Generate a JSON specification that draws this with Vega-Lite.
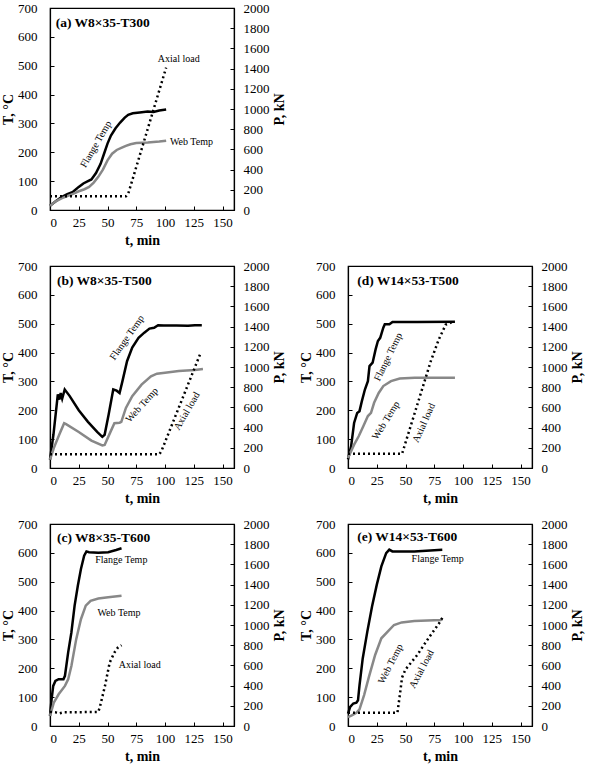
{
"$schema": "https://vega.github.io/schema/vega-lite/v6.json",
"padding": {"left": 0, "top": 1, "right": 0, "bottom": 0},
"config": {
 "view": {"stroke": "black", "strokeWidth": 1.2},
 "axis": {"grid": false, "labelOverlap": false, "format": "d", "domainColor": "black", "domainWidth": 1.2, "tickColor": "black", "tickSize": -4, "tickWidth": 1, "labelFont": "Liberation Serif", "labelFontSize": 13, "labelColor": "black", "titleFont": "Liberation Serif", "titleFontSize": 14, "titleFontWeight": "bold", "titleColor": "black"},
 "text": {"font": "Liberation Serif", "fontSize": 10, "color": "black"},
 "line": {"strokeWidth": 2.5},
 "concat": {"spacing": 11}
},
"datasets": {
 "temp": [
  {"p":"a","s":"Flange","t":0,"T":15},{"p":"a","s":"Flange","t":5,"T":30},{"p":"a","s":"Flange","t":10,"T":45},{"p":"a","s":"Flange","t":15,"T":55},{"p":"a","s":"Flange","t":20,"T":63},{"p":"a","s":"Flange","t":25,"T":80},{"p":"a","s":"Flange","t":29,"T":92},{"p":"a","s":"Flange","t":33,"T":100},{"p":"a","s":"Flange","t":36,"T":106},{"p":"a","s":"Flange","t":40,"T":128},{"p":"a","s":"Flange","t":44,"T":160},{"p":"a","s":"Flange","t":47,"T":195},{"p":"a","s":"Flange","t":50,"T":230},{"p":"a","s":"Flange","t":53,"T":258},{"p":"a","s":"Flange","t":57,"T":283},{"p":"a","s":"Flange","t":61,"T":303},{"p":"a","s":"Flange","t":65,"T":320},{"p":"a","s":"Flange","t":68,"T":330},{"p":"a","s":"Flange","t":72,"T":335},{"p":"a","s":"Flange","t":78,"T":338},{"p":"a","s":"Flange","t":85,"T":341},{"p":"a","s":"Flange","t":90,"T":340},{"p":"a","s":"Flange","t":95,"T":345},{"p":"a","s":"Flange","t":101,"T":348},
  {"p":"a","s":"Web","t":0,"T":15},{"p":"a","s":"Web","t":5,"T":30},{"p":"a","s":"Web","t":10,"T":40},{"p":"a","s":"Web","t":15,"T":48},{"p":"a","s":"Web","t":20,"T":56},{"p":"a","s":"Web","t":25,"T":65},{"p":"a","s":"Web","t":30,"T":72},{"p":"a","s":"Web","t":34,"T":80},{"p":"a","s":"Web","t":38,"T":95},{"p":"a","s":"Web","t":42,"T":115},{"p":"a","s":"Web","t":46,"T":140},{"p":"a","s":"Web","t":50,"T":172},{"p":"a","s":"Web","t":54,"T":195},{"p":"a","s":"Web","t":58,"T":208},{"p":"a","s":"Web","t":62,"T":215},{"p":"a","s":"Web","t":66,"T":222},{"p":"a","s":"Web","t":70,"T":228},{"p":"a","s":"Web","t":75,"T":232},{"p":"a","s":"Web","t":85,"T":234},{"p":"a","s":"Web","t":95,"T":237},{"p":"a","s":"Web","t":101,"T":240},
  {"p":"b","s":"Flange","t":0,"T":29},{"p":"b","s":"Flange","t":3,"T":116},{"p":"b","s":"Flange","t":6.8,"T":255},{"p":"b","s":"Flange","t":8.2,"T":237},{"p":"b","s":"Flange","t":9.3,"T":260},{"p":"b","s":"Flange","t":10.6,"T":240},{"p":"b","s":"Flange","t":12.8,"T":272},{"p":"b","s":"Flange","t":17,"T":250},{"p":"b","s":"Flange","t":25,"T":200},{"p":"b","s":"Flange","t":33,"T":160},{"p":"b","s":"Flange","t":41,"T":125},{"p":"b","s":"Flange","t":45.5,"T":108},{"p":"b","s":"Flange","t":47.5,"T":115},{"p":"b","s":"Flange","t":51,"T":185},{"p":"b","s":"Flange","t":55,"T":272},{"p":"b","s":"Flange","t":58,"T":268},{"p":"b","s":"Flange","t":60.5,"T":260},{"p":"b","s":"Flange","t":63,"T":301},{"p":"b","s":"Flange","t":67,"T":370},{"p":"b","s":"Flange","t":71.5,"T":417},{"p":"b","s":"Flange","t":77,"T":451},{"p":"b","s":"Flange","t":82,"T":469},{"p":"b","s":"Flange","t":86.5,"T":483},{"p":"b","s":"Flange","t":90.5,"T":486},{"p":"b","s":"Flange","t":94,"T":495},{"p":"b","s":"Flange","t":99,"T":494},{"p":"b","s":"Flange","t":110,"T":494},{"p":"b","s":"Flange","t":120,"T":493},{"p":"b","s":"Flange","t":126,"T":495},{"p":"b","s":"Flange","t":132,"T":495},
  {"p":"b","s":"Web","t":0,"T":29},{"p":"b","s":"Web","t":3.3,"T":69},{"p":"b","s":"Web","t":8,"T":115},{"p":"b","s":"Web","t":12.3,"T":155},{"p":"b","s":"Web","t":14,"T":152},{"p":"b","s":"Web","t":25,"T":125},{"p":"b","s":"Web","t":36,"T":95},{"p":"b","s":"Web","t":45.5,"T":78},{"p":"b","s":"Web","t":47.5,"T":80},{"p":"b","s":"Web","t":52,"T":120},{"p":"b","s":"Web","t":56,"T":155},{"p":"b","s":"Web","t":60.5,"T":157},{"p":"b","s":"Web","t":62,"T":160},{"p":"b","s":"Web","t":66,"T":208},{"p":"b","s":"Web","t":71.5,"T":249},{"p":"b","s":"Web","t":79.6,"T":289},{"p":"b","s":"Web","t":87.8,"T":318},{"p":"b","s":"Web","t":93,"T":327},{"p":"b","s":"Web","t":100,"T":330},{"p":"b","s":"Web","t":112,"T":336},{"p":"b","s":"Web","t":126,"T":340},{"p":"b","s":"Web","t":133,"T":343},
  {"p":"d","s":"Flange","t":0,"T":30},{"p":"d","s":"Flange","t":2.7,"T":75},{"p":"d","s":"Flange","t":5.3,"T":156},{"p":"d","s":"Flange","t":8,"T":191},{"p":"d","s":"Flange","t":10,"T":197},{"p":"d","s":"Flange","t":12,"T":231},{"p":"d","s":"Flange","t":14.7,"T":272},{"p":"d","s":"Flange","t":17.3,"T":301},{"p":"d","s":"Flange","t":18.7,"T":353},{"p":"d","s":"Flange","t":21.4,"T":365},{"p":"d","s":"Flange","t":24,"T":411},{"p":"d","s":"Flange","t":26,"T":440},{"p":"d","s":"Flange","t":28,"T":451},{"p":"d","s":"Flange","t":30.7,"T":486},{"p":"d","s":"Flange","t":32,"T":498},{"p":"d","s":"Flange","t":36,"T":498},{"p":"d","s":"Flange","t":38.7,"T":506},{"p":"d","s":"Flange","t":60,"T":506},{"p":"d","s":"Flange","t":93,"T":507},
  {"p":"d","s":"Web","t":0,"T":35},{"p":"d","s":"Web","t":5.3,"T":81},{"p":"d","s":"Web","t":9.3,"T":110},{"p":"d","s":"Web","t":13.3,"T":145},{"p":"d","s":"Web","t":17.3,"T":180},{"p":"d","s":"Web","t":20,"T":191},{"p":"d","s":"Web","t":22.7,"T":226},{"p":"d","s":"Web","t":26.7,"T":260},{"p":"d","s":"Web","t":30.7,"T":284},{"p":"d","s":"Web","t":37.4,"T":301},{"p":"d","s":"Web","t":45,"T":310},{"p":"d","s":"Web","t":58,"T":313},{"p":"d","s":"Web","t":93,"T":313},
  {"p":"c","s":"Flange","t":0,"T":35},{"p":"c","s":"Flange","t":1.4,"T":93},{"p":"c","s":"Flange","t":2.8,"T":139},{"p":"c","s":"Flange","t":4.7,"T":156},{"p":"c","s":"Flange","t":7.5,"T":162},{"p":"c","s":"Flange","t":11.7,"T":162},{"p":"c","s":"Flange","t":13,"T":174},{"p":"c","s":"Flange","t":15.8,"T":255},{"p":"c","s":"Flange","t":18.6,"T":324},{"p":"c","s":"Flange","t":21.4,"T":417},{"p":"c","s":"Flange","t":24.2,"T":486},{"p":"c","s":"Flange","t":26.9,"T":544},{"p":"c","s":"Flange","t":29.7,"T":590},{"p":"c","s":"Flange","t":31.7,"T":605},{"p":"c","s":"Flange","t":33.9,"T":602},{"p":"c","s":"Flange","t":42,"T":600},{"p":"c","s":"Flange","t":50.6,"T":602},{"p":"c","s":"Flange","t":57.5,"T":610},{"p":"c","s":"Flange","t":62.2,"T":616},
  {"p":"c","s":"Web","t":0,"T":35},{"p":"c","s":"Web","t":3.3,"T":81},{"p":"c","s":"Web","t":7.5,"T":110},{"p":"c","s":"Web","t":13,"T":139},{"p":"c","s":"Web","t":15.8,"T":162},{"p":"c","s":"Web","t":18.6,"T":208},{"p":"c","s":"Web","t":22.8,"T":301},{"p":"c","s":"Web","t":26.9,"T":370},{"p":"c","s":"Web","t":31.1,"T":417},{"p":"c","s":"Web","t":35.3,"T":434},{"p":"c","s":"Web","t":42,"T":442},{"p":"c","s":"Web","t":50.6,"T":446},{"p":"c","s":"Web","t":62.2,"T":451},
  {"p":"e","s":"Flange","t":0,"T":43},{"p":"e","s":"Flange","t":1.9,"T":66},{"p":"e","s":"Flange","t":4.6,"T":78},{"p":"e","s":"Flange","t":7.3,"T":81},{"p":"e","s":"Flange","t":8.7,"T":89},{"p":"e","s":"Flange","t":10,"T":141},{"p":"e","s":"Flange","t":12.8,"T":234},{"p":"e","s":"Flange","t":16.8,"T":327},{"p":"e","s":"Flange","t":20.9,"T":414},{"p":"e","s":"Flange","t":25,"T":489},{"p":"e","s":"Flange","t":29,"T":553},{"p":"e","s":"Flange","t":33.2,"T":599},{"p":"e","s":"Flange","t":35.9,"T":611},{"p":"e","s":"Flange","t":38.6,"T":605},{"p":"e","s":"Flange","t":57.6,"T":605},{"p":"e","s":"Flange","t":82,"T":611},
  {"p":"e","s":"Web","t":0,"T":31},{"p":"e","s":"Web","t":3.3,"T":37},{"p":"e","s":"Web","t":7.3,"T":46},{"p":"e","s":"Web","t":10,"T":58},{"p":"e","s":"Web","t":14,"T":107},{"p":"e","s":"Web","t":18.2,"T":170},{"p":"e","s":"Web","t":23.6,"T":246},{"p":"e","s":"Web","t":29,"T":304},{"p":"e","s":"Web","t":34.5,"T":327},{"p":"e","s":"Web","t":40,"T":350},{"p":"e","s":"Web","t":46.7,"T":359},{"p":"e","s":"Web","t":57.6,"T":364},{"p":"e","s":"Web","t":80.7,"T":367},{"p":"e","s":"Web","t":82,"T":371}
 ],
 "load": [
  {"p":"a","t":0,"P":135},{"p":"a","t":66,"P":135},{"p":"a","t":68,"P":160},{"p":"a","t":101,"P":1410},
  {"p":"b","t":0,"P":135},{"p":"b","t":95,"P":135},{"p":"b","t":97,"P":170},{"p":"b","t":131,"P":1140},
  {"p":"d","t":0,"P":140},{"p":"d","t":47,"P":140},{"p":"d","t":72,"P":1058},{"p":"d","t":79,"P":1274},{"p":"d","t":85,"P":1420},{"p":"d","t":88,"P":1430},{"p":"d","t":92,"P":1456},
  {"p":"c","t":0,"P":139},{"p":"c","t":5,"P":135},{"p":"c","t":8,"P":125},{"p":"c","t":12,"P":135},{"p":"c","t":42,"P":139},{"p":"c","t":43.6,"P":198},{"p":"c","t":47.8,"P":397},{"p":"c","t":51.9,"P":628},{"p":"c","t":56,"P":727},{"p":"c","t":58.9,"P":775},{"p":"c","t":62.2,"P":800},
  {"p":"e","t":0,"P":132},{"p":"e","t":43,"P":132},{"p":"e","t":45,"P":300},{"p":"e","t":47,"P":480},{"p":"e","t":50,"P":560},{"p":"e","t":60,"P":700},{"p":"e","t":70,"P":870},{"p":"e","t":80,"P":1030},{"p":"e","t":82,"P":1070}
 ]
},
"vconcat": [
 {"hconcat": [
  {"width": 184, "height": 202, "resolve": {"scale": {"y": "independent"}},
   "layer": [
    {"layer": [
     {"data": {"name": "temp"}, "transform": [{"filter": "datum.p === 'a'"}], "mark": "line",
      "encoding": {
       "x": {"field": "t", "type": "quantitative", "scale": {"domain": [0, 150]}, "axis": {"values": [0,25,50,75,100,125,150], "title": "t, min", "labelPadding": 10, "titlePadding": 4}},
       "y": {"field": "T", "type": "quantitative", "scale": {"domain": [0, 700]}, "axis": {"values": [0,100,200,300,400,500,600,700], "title": "T, °C", "labelPadding": 17, "titlePadding": 2}},
       "color": {"field": "s", "type": "nominal", "scale": {"domain": ["Flange", "Web"], "range": ["#000000", "#888888"]}, "legend": null}}},
     {"data": {"values": [{}]}, "mark": {"type": "text", "text": "(a) W8×35-T300", "fontWeight": "bold", "fontSize": 13.5, "align": "left"}, "encoding": {"x": {"datum": 5, "axis": {"values": [0,25,50,75,100,125,150], "title": "t, min", "labelPadding": 10, "titlePadding": 4}}, "y": {"datum": 648, "axis": {"values": [0,100,200,300,400,500,600,700], "title": "T, °C", "labelPadding": 17, "titlePadding": 2}}}},
     {"data": {"values": [{}]}, "mark": {"type": "text", "text": "Flange Temp", "angle": 300}, "encoding": {"x": {"datum": 40, "axis": {"values": [0,25,50,75,100,125,150], "title": "t, min", "labelPadding": 10, "titlePadding": 4}}, "y": {"datum": 228, "axis": {"values": [0,100,200,300,400,500,600,700], "title": "T, °C", "labelPadding": 17, "titlePadding": 2}}}},
     {"data": {"values": [{}]}, "mark": {"type": "text", "text": "Web Temp"}, "encoding": {"x": {"datum": 123, "axis": {"values": [0,25,50,75,100,125,150], "title": "t, min", "labelPadding": 10, "titlePadding": 4}}, "y": {"datum": 234, "axis": {"values": [0,100,200,300,400,500,600,700], "title": "T, °C", "labelPadding": 17, "titlePadding": 2}}}},
     {"data": {"values": [{}]}, "mark": {"type": "text", "text": "Axial load"}, "encoding": {"x": {"datum": 112, "axis": {"values": [0,25,50,75,100,125,150], "title": "t, min", "labelPadding": 10, "titlePadding": 4}}, "y": {"datum": 523, "axis": {"values": [0,100,200,300,400,500,600,700], "title": "T, °C", "labelPadding": 17, "titlePadding": 2}}}}
    ]},
    {"data": {"name": "load"}, "transform": [{"filter": "datum.p === 'a'"}], "mark": {"type": "line", "color": "black", "strokeDash": [2, 3]},
     "encoding": {"x": {"field": "t", "type": "quantitative", "axis": {"values": [0,25,50,75,100,125,150], "title": "t, min", "labelPadding": 10, "titlePadding": 4}},
      "y": {"field": "P", "type": "quantitative", "scale": {"domain": [0, 2000]}, "axis": {"orient": "right", "values": [0,200,400,600,800,1000,1200,1400,1600,1800,2000], "title": "P, kN", "titleAngle": -90, "titleBaseline": "top", "labelPadding": 13, "titlePadding": 3}}}}
   ]}
 ]},
 {"hconcat": [
  {"width": 184, "height": 202, "resolve": {"scale": {"y": "independent"}},
   "layer": [
    {"layer": [
     {"data": {"name": "temp"}, "transform": [{"filter": "datum.p === 'b'"}], "mark": "line",
      "encoding": {
       "x": {"field": "t", "type": "quantitative", "scale": {"domain": [0, 150]}, "axis": {"values": [0,25,50,75,100,125,150], "title": "t, min", "labelPadding": 10, "titlePadding": 4}},
       "y": {"field": "T", "type": "quantitative", "scale": {"domain": [0, 700]}, "axis": {"values": [0,100,200,300,400,500,600,700], "title": "T, °C", "labelPadding": 17, "titlePadding": 2}},
       "color": {"field": "s", "type": "nominal", "scale": {"domain": ["Flange", "Web"], "range": ["#000000", "#888888"]}, "legend": null}}},
     {"data": {"values": [{}]}, "mark": {"type": "text", "text": "(b) W8×35-T500", "fontWeight": "bold", "fontSize": 13.5, "align": "left"}, "encoding": {"x": {"datum": 6, "axis": {"values": [0,25,50,75,100,125,150], "title": "t, min", "labelPadding": 10, "titlePadding": 4}}, "y": {"datum": 648, "axis": {"values": [0,100,200,300,400,500,600,700], "title": "T, °C", "labelPadding": 17, "titlePadding": 2}}}},
     {"data": {"values": [{}]}, "mark": {"type": "text", "text": "Flange Temp", "angle": 305}, "encoding": {"x": {"datum": 67, "axis": {"values": [0,25,50,75,100,125,150], "title": "t, min", "labelPadding": 10, "titlePadding": 4}}, "y": {"datum": 452, "axis": {"values": [0,100,200,300,400,500,600,700], "title": "T, °C", "labelPadding": 17, "titlePadding": 2}}}},
     {"data": {"values": [{}]}, "mark": {"type": "text", "text": "Web Temp", "angle": 312}, "encoding": {"x": {"datum": 80, "axis": {"values": [0,25,50,75,100,125,150], "title": "t, min", "labelPadding": 10, "titlePadding": 4}}, "y": {"datum": 218, "axis": {"values": [0,100,200,300,400,500,600,700], "title": "T, °C", "labelPadding": 17, "titlePadding": 2}}}},
     {"data": {"values": [{}]}, "mark": {"type": "text", "text": "Axial load", "angle": 300}, "encoding": {"x": {"datum": 119, "axis": {"values": [0,25,50,75,100,125,150], "title": "t, min", "labelPadding": 10, "titlePadding": 4}}, "y": {"datum": 197, "axis": {"values": [0,100,200,300,400,500,600,700], "title": "T, °C", "labelPadding": 17, "titlePadding": 2}}}}
    ]},
    {"data": {"name": "load"}, "transform": [{"filter": "datum.p === 'b'"}], "mark": {"type": "line", "color": "black", "strokeDash": [2, 3]},
     "encoding": {"x": {"field": "t", "type": "quantitative", "axis": {"values": [0,25,50,75,100,125,150], "title": "t, min", "labelPadding": 10, "titlePadding": 4}},
      "y": {"field": "P", "type": "quantitative", "scale": {"domain": [0, 2000]}, "axis": {"orient": "right", "values": [0,200,400,600,800,1000,1200,1400,1600,1800,2000], "title": "P, kN", "titleAngle": -90, "titleBaseline": "top", "labelPadding": 13, "titlePadding": 3}}}}
   ]},
  {"width": 184, "height": 202, "resolve": {"scale": {"y": "independent"}},
   "layer": [
    {"layer": [
     {"data": {"name": "temp"}, "transform": [{"filter": "datum.p === 'd'"}], "mark": "line",
      "encoding": {
       "x": {"field": "t", "type": "quantitative", "scale": {"domain": [0, 150]}, "axis": {"values": [0,25,50,75,100,125,150], "title": "t, min", "labelPadding": 10, "titlePadding": 4}},
       "y": {"field": "T", "type": "quantitative", "scale": {"domain": [0, 700]}, "axis": {"values": [0,100,200,300,400,500,600,700], "title": "T, °C", "labelPadding": 17, "titlePadding": 2}},
       "color": {"field": "s", "type": "nominal", "scale": {"domain": ["Flange", "Web"], "range": ["#000000", "#888888"]}, "legend": null}}},
     {"data": {"values": [{}]}, "mark": {"type": "text", "text": "(d) W14×53-T500", "fontWeight": "bold", "fontSize": 13.5, "align": "left"}, "encoding": {"x": {"datum": 8, "axis": {"values": [0,25,50,75,100,125,150], "title": "t, min", "labelPadding": 10, "titlePadding": 4}}, "y": {"datum": 648, "axis": {"values": [0,100,200,300,400,500,600,700], "title": "T, °C", "labelPadding": 17, "titlePadding": 2}}}},
     {"data": {"values": [{}]}, "mark": {"type": "text", "text": "Flange Temp", "angle": 296}, "encoding": {"x": {"datum": 35, "axis": {"values": [0,25,50,75,100,125,150], "title": "t, min", "labelPadding": 10, "titlePadding": 4}}, "y": {"datum": 385, "axis": {"values": [0,100,200,300,400,500,600,700], "title": "T, °C", "labelPadding": 17, "titlePadding": 2}}}},
     {"data": {"values": [{}]}, "mark": {"type": "text", "text": "Web Temp", "angle": 302}, "encoding": {"x": {"datum": 33, "axis": {"values": [0,25,50,75,100,125,150], "title": "t, min", "labelPadding": 10, "titlePadding": 4}}, "y": {"datum": 165, "axis": {"values": [0,100,200,300,400,500,600,700], "title": "T, °C", "labelPadding": 17, "titlePadding": 2}}}},
     {"data": {"values": [{}]}, "mark": {"type": "text", "text": "Axial load", "angle": 294}, "encoding": {"x": {"datum": 66, "axis": {"values": [0,25,50,75,100,125,150], "title": "t, min", "labelPadding": 10, "titlePadding": 4}}, "y": {"datum": 156, "axis": {"values": [0,100,200,300,400,500,600,700], "title": "T, °C", "labelPadding": 17, "titlePadding": 2}}}}
    ]},
    {"data": {"name": "load"}, "transform": [{"filter": "datum.p === 'd'"}], "mark": {"type": "line", "color": "black", "strokeDash": [2, 3]},
     "encoding": {"x": {"field": "t", "type": "quantitative", "axis": {"values": [0,25,50,75,100,125,150], "title": "t, min", "labelPadding": 10, "titlePadding": 4}},
      "y": {"field": "P", "type": "quantitative", "scale": {"domain": [0, 2000]}, "axis": {"orient": "right", "values": [0,200,400,600,800,1000,1200,1400,1600,1800,2000], "title": "P, kN", "titleAngle": -90, "titleBaseline": "top", "labelPadding": 13, "titlePadding": 3}}}}
   ]}
 ]},
 {"hconcat": [
  {"width": 184, "height": 202, "resolve": {"scale": {"y": "independent"}},
   "layer": [
    {"layer": [
     {"data": {"name": "temp"}, "transform": [{"filter": "datum.p === 'c'"}], "mark": "line",
      "encoding": {
       "x": {"field": "t", "type": "quantitative", "scale": {"domain": [0, 150]}, "axis": {"values": [0,25,50,75,100,125,150], "title": "t, min", "labelPadding": 10, "titlePadding": 4}},
       "y": {"field": "T", "type": "quantitative", "scale": {"domain": [0, 700]}, "axis": {"values": [0,100,200,300,400,500,600,700], "title": "T, °C", "labelPadding": 17, "titlePadding": 2}},
       "color": {"field": "s", "type": "nominal", "scale": {"domain": ["Flange", "Web"], "range": ["#000000", "#888888"]}, "legend": null}}},
     {"data": {"values": [{}]}, "mark": {"type": "text", "text": "(c) W8×35-T600", "fontWeight": "bold", "fontSize": 13.5, "align": "left"}, "encoding": {"x": {"datum": 6, "axis": {"values": [0,25,50,75,100,125,150], "title": "t, min", "labelPadding": 10, "titlePadding": 4}}, "y": {"datum": 650, "axis": {"values": [0,100,200,300,400,500,600,700], "title": "T, °C", "labelPadding": 17, "titlePadding": 2}}}},
     {"data": {"values": [{}]}, "mark": {"type": "text", "text": "Flange Temp"}, "encoding": {"x": {"datum": 62, "axis": {"values": [0,25,50,75,100,125,150], "title": "t, min", "labelPadding": 10, "titlePadding": 4}}, "y": {"datum": 576, "axis": {"values": [0,100,200,300,400,500,600,700], "title": "T, °C", "labelPadding": 17, "titlePadding": 2}}}},
     {"data": {"values": [{}]}, "mark": {"type": "text", "text": "Web Temp"}, "encoding": {"x": {"datum": 60, "axis": {"values": [0,25,50,75,100,125,150], "title": "t, min", "labelPadding": 10, "titlePadding": 4}}, "y": {"datum": 391, "axis": {"values": [0,100,200,300,400,500,600,700], "title": "T, °C", "labelPadding": 17, "titlePadding": 2}}}},
     {"data": {"values": [{}]}, "mark": {"type": "text", "text": "Axial load"}, "encoding": {"x": {"datum": 78, "axis": {"values": [0,25,50,75,100,125,150], "title": "t, min", "labelPadding": 10, "titlePadding": 4}}, "y": {"datum": 211, "axis": {"values": [0,100,200,300,400,500,600,700], "title": "T, °C", "labelPadding": 17, "titlePadding": 2}}}}
    ]},
    {"data": {"name": "load"}, "transform": [{"filter": "datum.p === 'c'"}], "mark": {"type": "line", "color": "black", "strokeDash": [2, 3]},
     "encoding": {"x": {"field": "t", "type": "quantitative", "axis": {"values": [0,25,50,75,100,125,150], "title": "t, min", "labelPadding": 10, "titlePadding": 4}},
      "y": {"field": "P", "type": "quantitative", "scale": {"domain": [0, 2000]}, "axis": {"orient": "right", "values": [0,200,400,600,800,1000,1200,1400,1600,1800,2000], "title": "P, kN", "titleAngle": -90, "titleBaseline": "top", "labelPadding": 13, "titlePadding": 3}}}}
   ]},
  {"width": 184, "height": 202, "resolve": {"scale": {"y": "independent"}},
   "layer": [
    {"layer": [
     {"data": {"name": "temp"}, "transform": [{"filter": "datum.p === 'e'"}], "mark": "line",
      "encoding": {
       "x": {"field": "t", "type": "quantitative", "scale": {"domain": [0, 150]}, "axis": {"values": [0,25,50,75,100,125,150], "title": "t, min", "labelPadding": 10, "titlePadding": 4}},
       "y": {"field": "T", "type": "quantitative", "scale": {"domain": [0, 700]}, "axis": {"values": [0,100,200,300,400,500,600,700], "title": "T, °C", "labelPadding": 17, "titlePadding": 2}},
       "color": {"field": "s", "type": "nominal", "scale": {"domain": ["Flange", "Web"], "range": ["#000000", "#888888"]}, "legend": null}}},
     {"data": {"values": [{}]}, "mark": {"type": "text", "text": "(e) W14×53-T600", "fontWeight": "bold", "fontSize": 13.5, "align": "left"}, "encoding": {"x": {"datum": 8, "axis": {"values": [0,25,50,75,100,125,150], "title": "t, min", "labelPadding": 10, "titlePadding": 4}}, "y": {"datum": 655, "axis": {"values": [0,100,200,300,400,500,600,700], "title": "T, °C", "labelPadding": 17, "titlePadding": 2}}}},
     {"data": {"values": [{}]}, "mark": {"type": "text", "text": "Flange Temp"}, "encoding": {"x": {"datum": 78, "axis": {"values": [0,25,50,75,100,125,150], "title": "t, min", "labelPadding": 10, "titlePadding": 4}}, "y": {"datum": 579, "axis": {"values": [0,100,200,300,400,500,600,700], "title": "T, °C", "labelPadding": 17, "titlePadding": 2}}}},
     {"data": {"values": [{}]}, "mark": {"type": "text", "text": "Web Temp", "angle": 297}, "encoding": {"x": {"datum": 37, "axis": {"values": [0,25,50,75,100,125,150], "title": "t, min", "labelPadding": 10, "titlePadding": 4}}, "y": {"datum": 215, "axis": {"values": [0,100,200,300,400,500,600,700], "title": "T, °C", "labelPadding": 17, "titlePadding": 2}}}},
     {"data": {"values": [{}]}, "mark": {"type": "text", "text": "Axial load", "angle": 298}, "encoding": {"x": {"datum": 64, "axis": {"values": [0,25,50,75,100,125,150], "title": "t, min", "labelPadding": 10, "titlePadding": 4}}, "y": {"datum": 197, "axis": {"values": [0,100,200,300,400,500,600,700], "title": "T, °C", "labelPadding": 17, "titlePadding": 2}}}}
    ]},
    {"data": {"name": "load"}, "transform": [{"filter": "datum.p === 'e'"}], "mark": {"type": "line", "color": "black", "strokeDash": [2, 3]},
     "encoding": {"x": {"field": "t", "type": "quantitative", "axis": {"values": [0,25,50,75,100,125,150], "title": "t, min", "labelPadding": 10, "titlePadding": 4}},
      "y": {"field": "P", "type": "quantitative", "scale": {"domain": [0, 2000]}, "axis": {"orient": "right", "values": [0,200,400,600,800,1000,1200,1400,1600,1800,2000], "title": "P, kN", "titleAngle": -90, "titleBaseline": "top", "labelPadding": 13, "titlePadding": 3}}}}
   ]}
 ]}
]
}
